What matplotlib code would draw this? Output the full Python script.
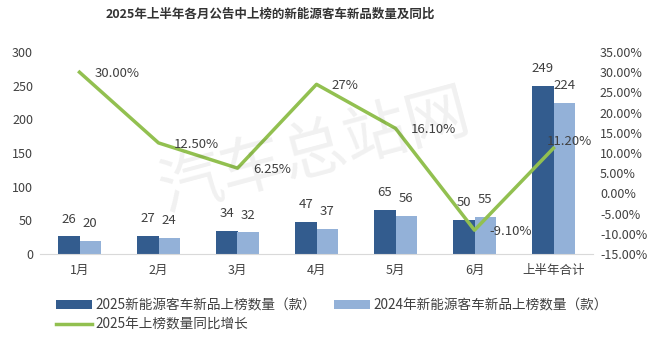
import numpy as np
import matplotlib
matplotlib.use("Agg")
import matplotlib.pyplot as plt
from matplotlib.ticker import FuncFormatter

plt.rcParams['font.family'] = ['Noto Sans CJK SC', 'DejaVu Sans']

categories = ['1月', '2月', '3月', '4月', '5月', '6月', '上半年合计']
new_2025 = [26, 27, 34, 47, 65, 50, 249]
new_2024 = [20, 24, 32, 37, 56, 55, 224]
yoy_pct = [30.00, 12.50, 6.25, 27.0, 16.10, -9.10, 11.20]
yoy_labels = ['30.00%', '12.50%', '6.25%', '27%', '16.10%', '-9.10%', '11.20%']

dark = '#335C8E'
light = '#93B1D8'
green = '#92C050'
txt = '#404040'

fig = plt.figure(figsize=(6.6, 3.48), dpi=100)
ax = fig.add_axes([40 / 660, 1 - 254 / 348, 553 / 660, 202 / 348])
ax2 = ax.twinx()

x = np.arange(len(categories))
w = 0.27
b1 = ax.bar(x - w / 2, new_2025, w, color=dark, label='2025新能源客车新品上榜数量（款）', zorder=2)
b2 = ax.bar(x + w / 2, new_2024, w, color=light, label='2024年新能源客车新品上榜数量（款）', zorder=2)
for xi, v in zip(x, new_2025):
    ax.annotate(str(v), (xi - w / 2, v), xytext=(0, 12.5), textcoords='offset points',
                ha='center', va='center', fontsize=9.5, color=txt)
for xi, v in zip(x, new_2024):
    ax.annotate(str(v), (xi + w / 2, v), xytext=(0, 12.5), textcoords='offset points',
                ha='center', va='center', fontsize=9.5, color=txt)

ax.set_ylim(0, 300)
ax.set_yticks(range(0, 301, 50))
ax.set_xlim(-0.5, len(categories) - 0.5)
ax.set_xticks(x)
ax.set_xticklabels(categories)

ln, = ax2.plot(x, yoy_pct, color=green, lw=2.5, label='2025年上榜数量同比增长', zorder=3)
for i, (xi, v, lab) in enumerate(zip(x, yoy_pct, yoy_labels)):
    off = (-5, 5) if i == len(x) - 1 else (11, -1)
    ax2.annotate(lab, (xi, v), xytext=off, textcoords='offset points',
                 ha='left', va='center', fontsize=9.5, color=txt)
ax2.set_ylim(-15, 35)
ax2.set_yticks(range(-15, 36, 5))
ax2.yaxis.set_major_formatter(FuncFormatter(lambda v, p: f'{v:.2f}%'))

for a in (ax, ax2):
    for s in a.spines.values():
        s.set_visible(False)
    a.tick_params(length=0, labelsize=9, colors=txt)
ax.spines['bottom'].set_visible(True)
ax.spines['bottom'].set_color('#D9D9D9')
ax.tick_params(axis='x', pad=7)
ax.tick_params(axis='y', pad=5)
ax2.tick_params(axis='y', pad=5)

fig.text(270 / 660, 1 - 14 / 348, '2025年上半年各月公告中上榜的新能源客车新品数量及同比',
         ha='center', va='center', fontsize=9, fontweight='bold', color='#333333')

# watermark
fig.text(315 / 660, 1 - 152 / 348, '汽车总站网', fontsize=46, color='#000000', alpha=0.06,
         rotation=15, ha='center', va='center')

handles = [b1, ln, b2]
fig.legend(handles=handles, labels=[h.get_label() for h in handles], ncol=2,
           loc='upper left', bbox_to_anchor=(44 / 660, 1 - 286 / 348), frameon=False,
           fontsize=9.8, labelcolor=txt, handlelength=2.6, handleheight=0.55,
           columnspacing=1.3, handletextpad=0.3, labelspacing=0.35)

fig.savefig('out.png', dpi=100)
